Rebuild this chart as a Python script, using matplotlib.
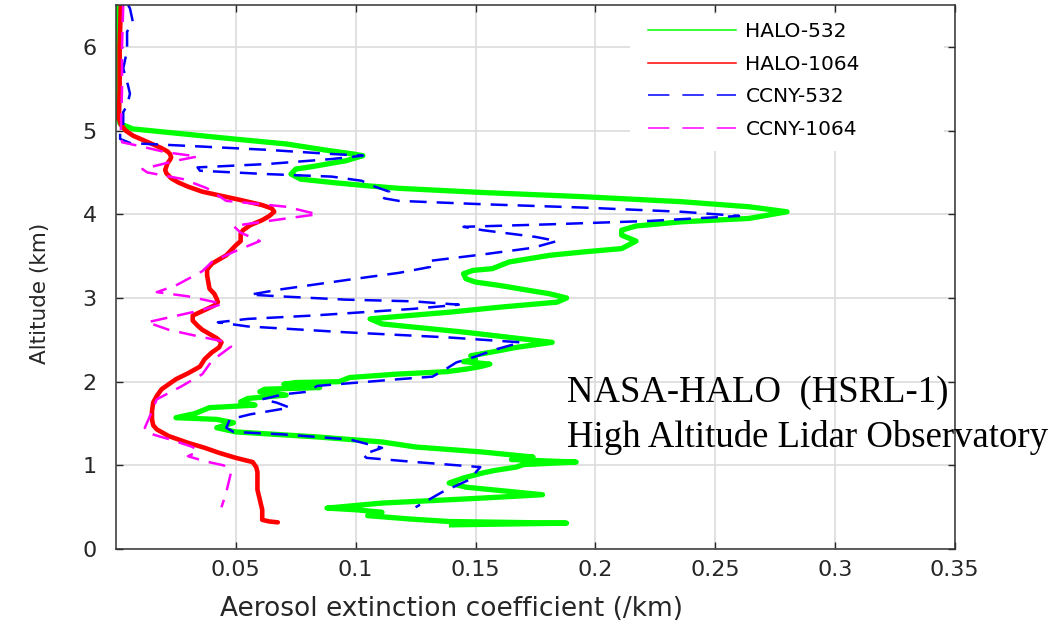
import matplotlib
matplotlib.use("Agg")
import matplotlib.pyplot as plt
from matplotlib.lines import Line2D
from matplotlib.patches import Rectangle

# ---- profiles: altitude (km) and aerosol extinction (/km), top to bottom ----
halo532_alt = [6.5, 5.5, 5.15, 5.08, 5.02, 4.98, 4.90, 4.84, 4.76, 4.72, 4.70, 4.64,
               4.57, 4.54, 4.48, 4.42, 4.38, 4.34, 4.31, 4.26, 4.21, 4.15, 4.09, 4.03,
               3.95, 3.91, 3.86, 3.81, 3.75, 3.68, 3.59, 3.55, 3.51, 3.43, 3.35, 3.33,
               3.29, 3.23, 3.19, 3.15, 3.09, 3.05, 3.00, 2.95, 2.89, 2.83, 2.78, 2.75,
               2.69, 2.65, 2.59, 2.53, 2.47, 2.41, 2.35, 2.31, 2.27, 2.24, 2.21, 2.18,
               2.15, 2.12, 2.09, 2.05, 2.00, 1.99, 1.97, 1.93, 1.91, 1.88, 1.84, 1.80,
               1.76, 1.72, 1.69, 1.62, 1.57, 1.55, 1.51, 1.45, 1.40, 1.34, 1.28, 1.22,
               1.16, 1.10, 1.07, 1.04, 1.01, 0.98, 0.94, 0.91, 0.85, 0.79, 0.74, 0.65,
               0.61, 0.55, 0.49, 0.47, 0.44, 0.40, 0.36, 0.33, 0.31, 0.29]
halo532_ext = [0.001, 0.001, 0.001, 0.0017, 0.007, 0.021, 0.049, 0.071, 0.089, 0.099, 0.103, 0.096,
               0.082, 0.075, 0.073, 0.077, 0.090, 0.105, 0.118, 0.153, 0.195, 0.236, 0.264, 0.280,
               0.264, 0.236, 0.217, 0.211, 0.211, 0.217, 0.211, 0.195, 0.181, 0.164, 0.157, 0.149,
               0.145, 0.146, 0.150, 0.160, 0.1725, 0.181, 0.188, 0.184, 0.160, 0.139, 0.118, 0.106,
               0.111, 0.125, 0.146, 0.164, 0.182, 0.167, 0.156, 0.148, 0.150, 0.145, 0.156, 0.152,
               0.146, 0.138, 0.117, 0.0975, 0.093, 0.075, 0.070, 0.085, 0.062, 0.060, 0.071, 0.055,
               0.052, 0.058, 0.039, 0.033, 0.025, 0.042, 0.049, 0.042, 0.050, 0.084, 0.111, 0.125,
               0.153, 0.174, 0.165, 0.192, 0.170, 0.167, 0.158, 0.153, 0.145, 0.139, 0.146, 0.178,
               0.153, 0.111, 0.088, 0.100, 0.111, 0.105, 0.1225, 0.139, 0.188, 0.140]

halo1064_alt = [6.5, 6.0, 5.5, 5.15, 5.07, 5.00, 4.94, 4.89, 4.84, 4.79, 4.75, 4.72,
                4.68, 4.65, 4.61, 4.57, 4.53, 4.49, 4.43, 4.38, 4.33, 4.27, 4.22, 4.17,
                4.11, 4.07, 4.03, 3.98, 3.93, 3.87, 3.81, 3.77, 3.73, 3.68, 3.63, 3.57,
                3.51, 3.46, 3.41, 3.34, 3.27, 3.19, 3.11, 3.05, 2.99, 2.95, 2.91, 2.87,
                2.83, 2.79, 2.73, 2.67, 2.62, 2.57, 2.52, 2.47, 2.41, 2.35, 2.27, 2.18,
                2.10, 2.03, 1.97, 1.91, 1.83, 1.75, 1.65, 1.55, 1.48, 1.43, 1.35, 1.27,
                1.21, 1.15, 1.09, 1.04, 0.98, 0.92, 0.81, 0.71, 0.59, 0.47, 0.35, 0.33,
                0.32]
halo1064_ext = [0.002, 0.0015, 0.0015, 0.0012, 0.002, 0.004, 0.007, 0.011, 0.015, 0.019, 0.0215, 0.0225,
                0.023, 0.0225, 0.0215, 0.021, 0.0205, 0.021, 0.023, 0.026, 0.030, 0.036, 0.044, 0.052,
                0.061, 0.065, 0.066, 0.064, 0.061, 0.056, 0.053, 0.052, 0.052, 0.052, 0.050, 0.048,
                0.046, 0.043, 0.040, 0.038, 0.038, 0.0385, 0.039, 0.041, 0.042, 0.0425, 0.041, 0.038,
                0.035, 0.032, 0.032, 0.034, 0.036, 0.039, 0.042, 0.044, 0.043, 0.040, 0.037, 0.035,
                0.030, 0.025, 0.022, 0.019, 0.017, 0.0155, 0.015, 0.015, 0.0155, 0.017, 0.022, 0.030,
                0.037, 0.043, 0.050, 0.057, 0.0585, 0.059, 0.059, 0.059, 0.060, 0.061, 0.061, 0.064,
                0.0675]

ccny532_alt = [6.5, 6.46, 6.30, 6.18, 5.96, 5.74, 5.54, 5.44, 5.30, 5.22, 5.02, 4.98,
               4.90, 4.85, 4.81, 4.77, 4.72, 4.70, 4.66, 4.60, 4.56, 4.52, 4.48, 4.45,
               4.40, 4.34, 4.30, 4.27, 4.21, 4.19, 4.16, 4.12, 4.08, 4.03, 3.98, 3.92,
               3.88, 3.85, 3.81, 3.73, 3.68, 3.60, 3.52, 3.44, 3.37, 3.30, 3.22, 3.10,
               3.04, 3.02, 2.98, 2.96, 2.92, 2.87, 2.79, 2.75, 2.71, 2.66, 2.59, 2.53,
               2.47, 2.39, 2.30, 2.23, 2.14, 2.06, 2.03, 1.95, 1.88, 1.85, 1.79, 1.75,
               1.69, 1.61, 1.55, 1.45, 1.40, 1.37, 1.31, 1.21, 1.13, 1.09, 1.04, 0.98,
               0.83, 0.68, 0.50]
ccny532_ext = [0.005, 0.0058, 0.007, 0.0046, 0.0046, 0.003, 0.005, 0.0058, 0.0046, 0.003, 0.003, 0.0017,
               0.0017, 0.006, 0.035, 0.063, 0.090, 0.103, 0.090, 0.063, 0.034, 0.035, 0.063, 0.090,
               0.1025, 0.107, 0.111, 0.114, 0.111, 0.112, 0.118, 0.153, 0.195, 0.236, 0.260, 0.2225,
               0.181, 0.145, 0.153, 0.175, 0.184, 0.174, 0.153, 0.130, 0.131, 0.118, 0.0975, 0.068,
               0.056, 0.068, 0.096, 0.124, 0.143, 0.124, 0.082, 0.055, 0.0425, 0.055, 0.096, 0.138,
               0.169, 0.159, 0.150, 0.142, 0.137, 0.132, 0.118, 0.084, 0.080, 0.070, 0.061, 0.067,
               0.0725, 0.056, 0.0475, 0.046, 0.049, 0.070, 0.0975, 0.111, 0.103, 0.1045, 0.125, 0.152,
               0.1475, 0.136, 0.125]

ccny1064_alt = [6.5, 6.0, 5.5, 5.0, 4.86, 4.82, 4.74, 4.69, 4.64, 4.54, 4.50, 4.42,
                4.31, 4.16, 4.09, 4.00, 3.93, 3.86, 3.78, 3.68, 3.55, 3.43, 3.32, 3.15,
                3.07, 3.02, 2.93, 2.85, 2.71, 2.62, 2.55, 2.48, 2.42, 2.25, 2.09, 1.94,
                1.79, 1.58, 1.45, 1.39, 1.31, 1.22, 1.16, 1.11, 1.05, 1.00, 0.92, 0.80,
                0.68, 0.50]
ccny1064_ext = [0.003, 0.0025, 0.0025, 0.002, 0.0025, 0.009, 0.021, 0.034, 0.025, 0.011, 0.013, 0.028,
                0.038, 0.046, 0.071, 0.084, 0.066, 0.049, 0.052, 0.060, 0.049, 0.040, 0.036, 0.025,
                0.017, 0.030, 0.0446, 0.035, 0.013, 0.022, 0.033, 0.045, 0.048, 0.040, 0.036, 0.027,
                0.017, 0.014, 0.012, 0.013, 0.0225, 0.032, 0.034, 0.030, 0.037, 0.045, 0.048, 0.047,
                0.046, 0.044]

series_labels = ["HALO-532", "HALO-1064", "CCNY-532", "CCNY-1064"]
x_ticks = [0.05, 0.10, 0.15, 0.20, 0.25, 0.30, 0.35]
x_tick_labels = ["0.05", "0.1", "0.15", "0.2", "0.25", "0.3", "0.35"]
y_ticks = [0, 1, 2, 3, 4, 5, 6]

GREEN, RED, BLUE, MAGENTA = "#00ff00", "#ff0000", "#0000ff", "#ff00ff"
INK = "#262626"

fig = plt.figure(figsize=(10.55, 6.24), dpi=100)
ax = fig.add_axes([0.110, 0.120, 0.795, 0.872])

ax.plot(halo532_ext, halo532_alt, color=GREEN, lw=3.8, solid_joinstyle="round", zorder=2.0)
ax.plot(halo1064_ext, halo1064_alt, color=RED, lw=3.3, solid_joinstyle="round",
        solid_capstyle="round", zorder=2.1)
ax.plot(ccny532_ext, ccny532_alt, color=BLUE, lw=1.8, ls=(0, (6.8, 4.0)), zorder=2.2)
ax.plot(ccny1064_ext, ccny1064_alt, color=MAGENTA, lw=1.8, ls=(0, (6.8, 4.0)), zorder=2.3)

ax.set_xlim(0, 0.35)
ax.set_ylim(0, 6.5)
ax.set_xticks(x_ticks)
ax.set_xticklabels(x_tick_labels)
ax.set_yticks(y_ticks)

ax.grid(True, color="#dcdcdc", lw=1.2)
ax.tick_params(direction="in", length=5, width=1.0, color=INK, top=True, right=True,
               labelsize=16, labelcolor=INK)
ax.tick_params(axis="x", pad=8)
ax.tick_params(axis="y", pad=14)
for lab in ax.get_xticklabels() + ax.get_yticklabels():
    lab.set_fontfamily("DejaVu Sans")
for sp in ax.spines.values():
    sp.set_color("#333333")
    sp.set_linewidth(1.1)

ax.set_xlabel("Aerosol extinction coefficient (/km)", fontsize=19, color=INK,
              family="DejaVu Sans", va="center")
ax.xaxis.set_label_coords(0.40, -0.110)
ax.set_ylabel("Altitude (km)", fontsize=15.5, color=INK, family="DejaVu Sans",
              va="center", rotation_mode="anchor")
ax.yaxis.set_label_coords(-0.091, 0.470)

# white panel behind the legend, hiding the grid there
ax.add_patch(Rectangle((0.6126, 0.7316), 0.375, 0.252, transform=ax.transAxes,
                       facecolor="white", edgecolor="none", zorder=1.8))

handles = [
    Line2D([], [], color=GREEN, lw=1.1),
    Line2D([], [], color=RED, lw=1.1),
    Line2D([], [], color=BLUE, lw=1.1, ls=(0, (14, 8.5))),
    Line2D([], [], color=MAGENTA, lw=1.1, ls=(0, (14, 8.5))),
]
ax.legend(handles, series_labels, loc="upper left", bbox_to_anchor=(0.634, 0.969),
          frameon=False, prop={"family": "DejaVu Sans", "size": 14.5},
          handlelength=4.4, handletextpad=0.45, labelspacing=0.68,
          borderpad=0.0, borderaxespad=0.0)

ax.text(0.1883, 1.756, "NASA-HALO  (HSRL-1)", fontsize=26.5, family="Liberation Serif",
        va="baseline", ha="left", color="black", clip_on=False, zorder=6)
ax.text(0.1883, 1.219, "High Altitude Lidar Observatory", fontsize=26.5, family="Liberation Serif",
        va="baseline", ha="left", color="black", clip_on=False, zorder=6)

fig.savefig("out.png", dpi=100)
